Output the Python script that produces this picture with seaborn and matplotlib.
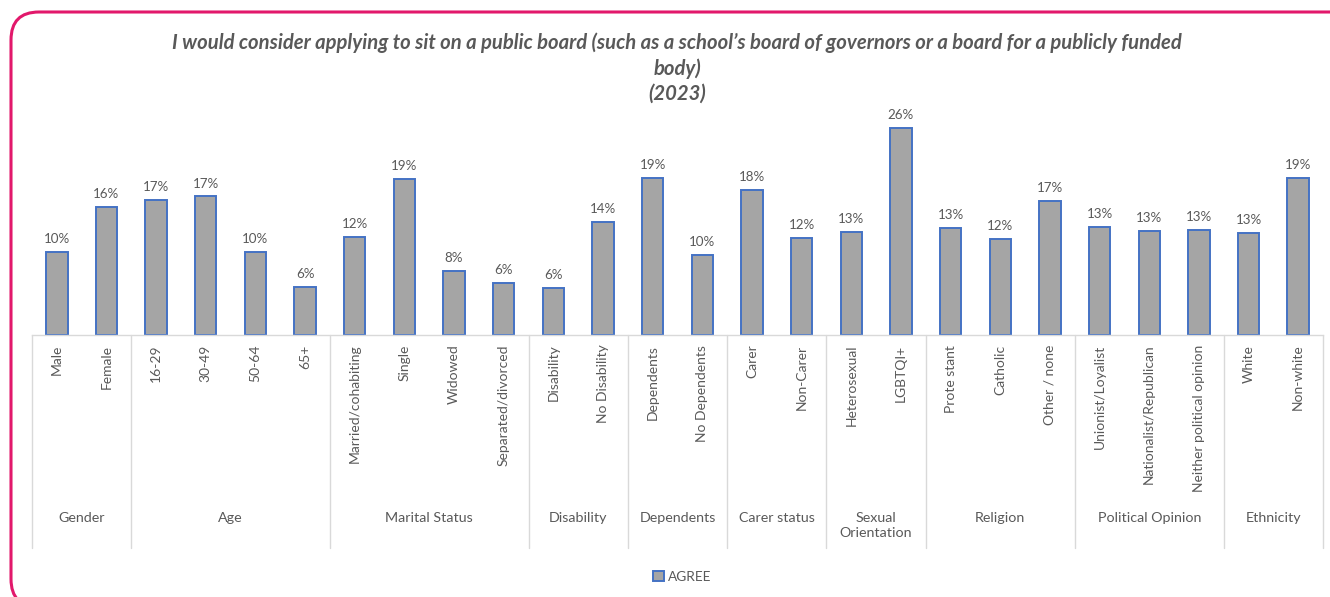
import numpy as np
import pandas as pd
import seaborn as sns
import matplotlib.pyplot as plt
from matplotlib.patches import FancyBboxPatch

# ---- data -------------------------------------------------------------
categories = [
    "Male", "Female",
    "16-29", "30-49", "50-64", "65+",
    "Married/cohabiting", "Single", "Widowed", "Separated/divorced",
    "Disability", "No Disability",
    "Dependents", "No Dependents",
    "Carer", "Non-Carer",
    "Heterosexual", "LGBTQI+",
    "Prote stant", "Catholic", "Other / none",
    "Unionist/Loyalist", "Nationalist/Republican", "Neither political opinion",
    "White", "Non-white",
]
agree = [
    0.102, 0.158,
    0.167, 0.171, 0.102, 0.059,
    0.121, 0.193, 0.079, 0.064,
    0.058, 0.140,
    0.194, 0.099,
    0.179, 0.120,
    0.127, 0.256,
    0.132, 0.119, 0.166,
    0.133, 0.129, 0.130,
    0.126, 0.194,
]
groups = ["Gender", "Age", "Marital Status", "Disability", "Dependents",
          "Carer status", "Sexual\nOrientation", "Religion",
          "Political Opinion", "Ethnicity"]
group_sizes = [2, 4, 4, 2, 2, 2, 2, 3, 3, 2]
series_name = "AGREE"
title = ("I would consider applying to sit on a public board (such as a school\u2019s "
         "board of governors or a board for a publicly funded\nbody)\n(2023)")

# ---- style ------------------------------------------------------------
BAR = "#A5A5A5"
EDGE = "#4472C4"
TEXT = "#595959"
GRID = "#D9D9D9"
PINK = "#E2186B"

sns.set_style("white")
plt.rcParams["font.family"] = ["Lato", "DejaVu Sans"]

W, H = 1330, 597
DPI = 100
fig = plt.figure(figsize=(W / DPI, H / DPI), dpi=DPI)
base_y, top_y = 335, 92
ax = fig.add_axes([32 / W, (H - base_y) / H, (1323 - 32) / W, (base_y - top_y) / H])
ax_h = base_y - top_y

df = pd.DataFrame({"category": categories, "value": agree, "series": series_name})
sns.barplot(data=df, x="category", y="value", hue="series", palette=[BAR],
            edgecolor=EDGE, linewidth=1.4, width=0.43, ax=ax, legend=True)

ax.set_xlim(-0.5, len(categories) - 0.5)
ax.set_ylim(0, 0.30)
ax.set_yticks([])
ax.set_xlabel("")
ax.set_ylabel("")
for s in ("left", "right", "top"):
    ax.spines[s].set_visible(False)
ax.spines["bottom"].set_color(GRID)
ax.spines["bottom"].set_linewidth(1.0)

ax.set_xticks(range(len(categories)))
ax.set_xticklabels(categories, rotation=90, fontsize=10, color=TEXT)
ax.tick_params(axis="x", length=0, pad=7)

for cont in ax.containers:
    ax.bar_label(cont, labels=[f"{v * 100:.0f}%" for v in cont.datavalues],
                 padding=5, fontsize=9.6, color=TEXT)

# group separators and group names under the category labels
xt = ax.get_xaxis_transform()
sep_bottom = -(548 - base_y) / ax_h
bounds = np.concatenate([[0], np.cumsum(group_sizes)]) - 0.5
for b in bounds:
    ax.plot([b, b], [0, sep_bottom], transform=xt, color=GRID, lw=1.0,
            clip_on=False)
label_top = -(512 - base_y) / ax_h
for g, lo, hi in zip(groups, bounds[:-1], bounds[1:]):
    ax.text((lo + hi) / 2, label_top, g, transform=xt, ha="center", va="top",
            fontsize=10.3, color=TEXT, linespacing=1.3)

# legend
handles, labels = ax.get_legend_handles_labels()
ax.get_legend().remove()
fig.legend(handles, labels, loc="center", bbox_to_anchor=(682 / W, (H - 577) / H),
           frameon=False, fontsize=9.8, labelcolor=TEXT, handlelength=0.8,
           handleheight=0.8, handletextpad=0.3)

# title
fig.text(677 / W, (H - 32) / H, title, ha="center", va="top", fontsize=14.6,
         fontweight="bold", fontstyle="italic", color=TEXT, linespacing=1.33)

# rounded frame around the chart (drawn in inches so the corners stay round)
px = 1 / DPI
left, top, right, bottom = 11, 12, 1366, 607
frame = FancyBboxPatch((left * px, (H - bottom) * px), (right - left) * px,
                       (bottom - top) * px,
                       boxstyle=f"round,pad=0,rounding_size={28 * px}",
                       transform=fig.dpi_scale_trans, facecolor="none",
                       edgecolor=PINK, linewidth=2.2, clip_on=False)
fig.add_artist(frame)

fig.savefig("out.png", dpi=DPI)
